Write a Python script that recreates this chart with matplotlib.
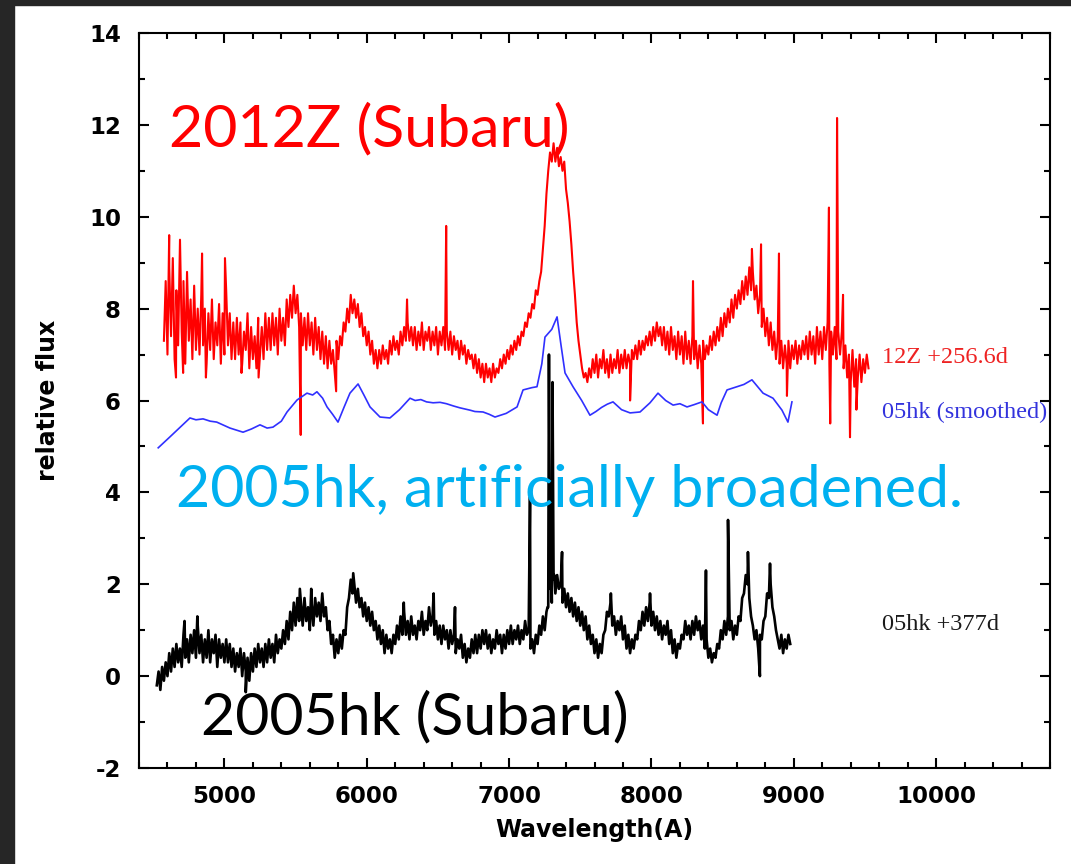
import numpy as np
import matplotlib.pyplot as plt
from matplotlib.ticker import MultipleLocator
from matplotlib.patches import Rectangle

plt.rcParams['axes.unicode_minus'] = False

# 12Z spectrum (+256.6d), sampled every 12.5 A from 4575 to 9525
red_wave = np.arange(4575, 9525.1, 12.5)
red_flux = [
    7.3, 8.6, 7.0, 8.9, 7.4, 9.1, 6.9, 8.4, 7.2, 9.3, 7.5, 8.6, 6.8, 8.8, 7.3, 8.2, 6.9, 8.5, 7.1, 8.0,
    7.0, 8.3, 7.2, 8.0, 6.8, 7.9, 7.1, 8.2, 6.9, 7.7, 7.2, 8.1, 6.8, 7.9, 7.0, 8.4, 7.2, 7.9, 6.9, 7.7,
    6.9, 7.8, 7.0, 7.7, 6.8, 7.5, 7.1, 7.9, 6.7, 7.6, 6.9, 7.4, 6.7, 7.8, 7.0, 7.6, 6.9, 7.9, 7.1, 7.8,
    7.1, 7.9, 7.2, 7.8, 7.0, 8.0, 7.3, 7.8, 7.2, 8.2, 7.6, 8.3, 7.8, 8.5, 7.9, 8.3, 7.6, 7.9, 7.2, 7.8,
    7.1, 7.9, 7.2, 7.7, 7.0, 7.8, 7.1, 7.6, 6.9, 7.5, 6.8, 7.4, 6.7, 7.3, 6.8, 7.1, 6.6, 7.3, 6.9, 7.4,
    7.2, 7.7, 7.5, 8.0, 7.7, 8.3, 7.9, 8.2, 7.8, 8.1, 7.6, 7.9, 7.4, 7.6, 7.2, 7.5, 7.0, 7.3, 6.8, 7.1,
    6.7, 7.1, 6.8, 7.2, 6.9, 7.1, 6.8, 7.3, 7.0, 7.4, 7.1, 7.3, 7.0, 7.5, 7.2, 7.6, 7.3, 7.7, 7.3, 7.6,
    7.2, 7.6, 7.1, 7.5, 7.2, 7.7, 7.1, 7.5, 7.3, 7.6, 7.1, 7.5, 7.2, 7.6, 7.0, 7.5, 7.2, 7.6, 7.1, 7.5,
    7.1, 7.5, 7.0, 7.4, 7.1, 7.3, 6.9, 7.3, 7.0, 7.2, 6.8, 7.1, 6.9, 7.0, 6.7, 7.0, 6.6, 6.9, 6.5, 6.8,
    6.4, 6.8, 6.5, 6.7, 6.4, 6.8, 6.5, 6.7, 6.6, 6.9, 6.7, 7.0, 6.8, 7.1, 6.9, 7.2, 7.0, 7.3, 7.1, 7.4,
    7.2, 7.5, 7.4, 7.7, 7.6, 7.9, 7.8, 8.1, 8.0, 8.4, 8.3, 8.6, 8.8, 9.3, 9.8, 10.5, 11.0, 11.4, 11.2, 11.6,
    11.2, 11.5, 11.1, 11.3, 11.0, 11.2, 10.6, 10.3, 9.9, 9.4, 8.8, 8.3, 7.7, 7.3, 7.0, 6.7, 6.5, 6.6, 6.4, 6.7,
    6.5, 6.9, 6.6, 7.0, 6.5, 6.9, 6.7, 7.1, 6.6, 6.9, 6.5, 7.0, 6.6, 6.9, 6.7, 7.1, 6.6, 7.0, 6.7, 7.1,
    6.7, 7.0, 6.8, 7.1, 6.9, 7.2, 6.9, 7.3, 7.0, 7.3, 7.1, 7.4, 7.2, 7.5, 7.2, 7.6, 7.3, 7.7, 7.4, 7.6,
    7.2, 7.6, 7.1, 7.5, 7.0, 7.6, 7.1, 7.4, 6.9, 7.5, 7.0, 7.4, 6.8, 7.5, 6.9, 7.3, 6.8, 7.4, 6.9, 7.3,
    6.7, 7.2, 6.8, 7.3, 6.9, 7.2, 7.0, 7.4, 7.1, 7.5, 7.2, 7.6, 7.3, 7.8, 7.4, 7.9, 7.6, 8.0, 7.7, 8.2,
    7.8, 8.3, 8.0, 8.4, 8.1, 8.6, 8.2, 8.7, 8.3, 8.9, 8.4, 8.8, 8.2, 8.5, 7.9, 8.3, 7.6, 8.0, 7.4, 7.8,
    7.2, 7.7, 7.1, 7.5, 6.9, 7.4, 6.8, 7.3, 6.7, 7.2, 6.8, 7.3, 6.7, 7.2, 6.9, 7.3, 6.8, 7.2, 6.9, 7.3,
    7.0, 7.4, 6.9, 7.5, 7.0, 7.4, 6.8, 7.6, 7.0, 7.5, 6.9, 7.6, 7.1, 7.7, 6.8, 7.5, 7.0, 7.6, 6.9, 7.5,
    7.0, 7.5, 6.7, 7.2, 6.5, 7.0, 6.4, 7.1, 6.3, 6.9, 6.5, 7.0, 6.4, 6.9, 6.6, 7.0, 6.7,
]
# narrow lines / residuals in the 12Z spectrum
red_spike_wave = [4612, 4660, 4688, 4710, 4843, 4870, 5004, 5120, 5240, 5536,
                  5785, 6283, 6558, 7850, 8292, 8362, 8706, 8770, 8896, 8952,
                  9247, 9256, 9304, 9346, 9395, 9440]
red_spike_flux = [9.6, 6.5, 9.5, 6.6, 9.2, 6.5, 9.1, 6.6, 6.5, 5.25,
                  6.2, 8.2, 9.8, 6.0, 8.6, 5.5, 9.3, 9.4, 9.2, 6.1,
                  10.2, 5.5, 12.15, 8.3, 5.2, 5.8]

# 05hk smoothed to the 12Z line widths
blue_wave = [4535, 4618, 4700, 4758, 4800, 4850, 4900, 4946, 5039, 5131,
             5190, 5250, 5300, 5341, 5400, 5440, 5510, 5580, 5620, 5650,
             5690, 5721, 5760, 5798, 5840, 5882, 5939, 5980, 6023, 6093,
             6163, 6230, 6304, 6340, 6380, 6420, 6466, 6515, 6560, 6610,
             6655, 6725, 6760, 6817, 6860, 6901, 6980, 7056, 7098, 7160,
             7196, 7230, 7252, 7300, 7337, 7365, 7393, 7449, 7510, 7568,
             7610, 7650, 7690, 7730, 7790, 7850, 7920, 7990, 8046, 8100,
             8152, 8200, 8250, 8300, 8355, 8400, 8461, 8490, 8531, 8601,
             8650, 8706, 8784, 8854, 8917, 8959, 8987]
blue_flux = [4.97, 5.21, 5.45, 5.62, 5.58, 5.60, 5.55, 5.53, 5.40, 5.31,
             5.38, 5.47, 5.40, 5.42, 5.55, 5.75, 6.01, 6.16, 6.12, 6.19,
             6.05, 5.86, 5.70, 5.53, 5.85, 6.16, 6.36, 6.12, 5.86, 5.64,
             5.62, 5.80, 6.05, 6.00, 6.02, 5.97, 5.95, 5.96, 5.93, 5.88,
             5.84, 5.79, 5.76, 5.75, 5.70, 5.64, 5.72, 5.86, 6.23, 6.28,
             6.30, 6.80, 7.38, 7.55, 7.82, 7.20, 6.60, 6.30, 6.00, 5.68,
             5.76, 5.85, 5.92, 5.97, 5.80, 5.73, 5.75, 5.95, 6.16, 6.00,
             5.90, 5.93, 5.86, 5.91, 5.97, 5.80, 5.68, 5.95, 6.23, 6.30,
             6.35, 6.45, 6.16, 6.05, 5.79, 5.53, 5.97]

# 05hk spectrum (+377d), sampled every 12.5 A from 4525 to 8975
black_wave = np.arange(4525, 8975.1, 12.5)
black_flux = [
    -0.2, 0.1, -0.3, 0.2, -0.1, 0.3, 0.0, 0.5, 0.1, 0.6, 0.2, 0.7, 0.3, 0.6, 0.2, 0.9, 0.4, 0.8, 0.3, 0.9,
    0.5, 1.0, 0.4, 1.1, 0.5, 0.9, 0.3, 0.8, 0.4, 1.0, 0.3, 0.8, 0.5, 0.9, 0.2, 0.8, 0.4, 0.7, 0.3, 0.8,
    0.3, 0.7, 0.2, 0.6, 0.1, 0.5, 0.2, 0.6, 0.0, 0.5, 0.1, 0.4, -0.1, 0.5, 0.1, 0.6, 0.2, 0.7, 0.3, 0.6,
    0.2, 0.7, 0.3, 0.8, 0.4, 0.7, 0.3, 0.9, 0.5, 0.8, 0.6, 1.0, 0.7, 1.2, 0.8, 1.4, 1.0, 1.6, 1.1, 1.7,
    1.2, 1.6, 1.1, 1.7, 1.2, 1.5, 1.0, 1.6, 1.1, 1.7, 1.3, 1.6, 1.2, 1.8, 1.3, 1.5, 1.0, 1.2, 0.7, 0.9,
    0.4, 0.8, 0.5, 0.9, 0.6, 1.0, 0.9, 1.5, 1.7, 2.1, 1.8, 2.0, 1.6, 1.9, 1.5, 1.7, 1.3, 1.6, 1.2, 1.5,
    1.1, 1.4, 1.0, 1.2, 0.8, 1.1, 0.7, 1.0, 0.5, 0.9, 0.6, 0.8, 0.5, 0.9, 0.7, 1.1, 0.8, 1.3, 0.9, 1.4,
    0.9, 1.2, 0.8, 1.3, 0.9, 1.1, 0.8, 1.2, 1.0, 1.4, 0.9, 1.2, 1.0, 1.5, 1.1, 1.3, 0.9, 1.2, 0.8, 1.1,
    0.7, 1.1, 0.8, 1.0, 0.6, 1.0, 0.7, 0.9, 0.5, 0.8, 0.6, 0.9, 0.4, 0.7, 0.3, 0.6, 0.4, 0.8, 0.5, 0.9,
    0.5, 0.9, 0.6, 1.0, 0.7, 1.0, 0.6, 0.9, 0.5, 0.8, 0.6, 1.0, 0.7, 0.9, 0.5, 0.9, 0.6, 1.0, 0.7, 1.1,
    0.7, 1.0, 0.8, 1.1, 0.7, 1.0, 0.8, 1.2, 0.9, 1.0, 0.6, 0.8, 0.5, 0.9, 0.7, 1.1, 0.9, 1.3, 1.0, 1.4,
    1.5, 1.9, 1.6, 2.1, 1.8, 2.2, 1.9, 2.0, 1.6, 1.9, 1.5, 1.8, 1.4, 1.7, 1.3, 1.6, 1.2, 1.5, 1.1, 1.4,
    1.0, 1.3, 0.8, 1.1, 0.7, 0.9, 0.5, 0.8, 0.4, 0.7, 0.5, 0.9, 1.0, 1.4, 1.3, 1.6, 1.1, 1.3, 0.9, 1.2,
    1.0, 1.3, 0.8, 1.1, 0.6, 0.9, 0.5, 0.8, 0.6, 0.9, 0.8, 1.2, 1.0, 1.4, 1.1, 1.5, 1.2, 1.6, 1.1, 1.4,
    1.0, 1.3, 0.9, 1.2, 0.8, 1.1, 0.9, 1.2, 0.7, 1.0, 0.5, 0.8, 0.4, 0.7, 0.6, 0.9, 0.8, 1.2, 0.9, 1.1,
    0.8, 1.2, 0.9, 1.3, 1.0, 1.2, 0.8, 1.1, 0.6, 0.8, 0.4, 0.6, 0.3, 0.5, 0.4, 0.7, 0.6, 1.0, 0.8, 1.2,
    0.9, 1.3, 1.0, 1.2, 0.8, 1.1, 0.9, 1.3, 1.2, 1.7, 1.8, 2.2, 2.0, 1.7, 1.3, 1.1, 0.8, 1.0, 0.6, 0.9,
    0.8, 1.2, 1.3, 1.8, 1.7, 2.0, 1.5, 1.3, 1.0, 0.8, 0.6, 0.9, 0.5, 0.8, 0.6, 0.9, 0.7,
]
black_spike_wave = [4720, 4810, 5150, 5530, 5610, 5905, 6260, 6470, 6620, 7147,
                    7270, 7280, 7292, 7305, 7318, 7372, 7715, 7990, 8383, 8538,
                    8678, 8762, 8833]
black_spike_flux = [1.2, 1.3, -0.35, 1.9, 1.9, 2.24, 1.6, 1.8, 1.5, 3.9,
                    1.5, 7.0, 2.8, 6.4, 2.2, 2.7, 1.8, 1.8, 2.3, 3.4,
                    2.7, 0.0, 2.45]


def with_spikes(wave, flux, spike_wave, spike_flux):
    w = np.concatenate([wave, spike_wave])
    f = np.concatenate([flux, spike_flux])
    order = np.argsort(w, kind='stable')
    return w[order], f[order]


fig = plt.figure(figsize=(10.71, 8.64), dpi=100)
fig.patch.set_facecolor('white')
# dark frame strips along the top and left edges
fig.add_artist(Rectangle((0, 1 - 5 / 864), 1, 5 / 864, transform=fig.transFigure,
                         color='#262626', zorder=10))
fig.add_artist(Rectangle((0, 0), 14 / 1071, 1, transform=fig.transFigure,
                         color='#262626', zorder=10))

ax = fig.add_axes([139 / 1071, 96 / 864, 911 / 1071, 735 / 864])

rw, rf = with_spikes(red_wave, red_flux, red_spike_wave, red_spike_flux)
bw, bf = with_spikes(black_wave, black_flux, black_spike_wave, black_spike_flux)
ax.plot(rw, rf, color='#ff0000', lw=1.5)
ax.plot(blue_wave, blue_flux, color='#3030ff', lw=1.2)
ax.plot(bw, bf, color='black', lw=1.9)

ax.set_xlim(4400, 10800)
ax.set_ylim(-2, 14)
ax.xaxis.set_major_locator(MultipleLocator(1000))
ax.xaxis.set_minor_locator(MultipleLocator(200))
ax.yaxis.set_major_locator(MultipleLocator(2))
ax.yaxis.set_minor_locator(MultipleLocator(1))
ax.set_xticks(range(5000, 10001, 1000))
ax.tick_params(which='both', direction='in', top=True, right=True, width=1.5)
ax.tick_params(which='major', length=7)
ax.tick_params(which='minor', length=4)
ax.tick_params(axis='x', pad=12)
ax.tick_params(axis='y', pad=13)
for lab in ax.get_xticklabels() + ax.get_yticklabels():
    lab.set_fontfamily('DejaVu Sans')
    lab.set_fontweight('bold')
    lab.set_fontsize(16.5)
for sp in ax.spines.values():
    sp.set_linewidth(1.5)

ax.set_xlabel('Wavelength(A)', fontfamily='DejaVu Sans', fontweight='bold', fontsize=17)
ax.set_ylabel('relative flux', fontfamily='DejaVu Sans', fontweight='bold', fontsize=17)
ax.xaxis.set_label_coords(0.5, -0.068)
ax.yaxis.set_label_coords(-0.087, 0.5)

# spectrum tags
ax.text(9620, 6.82, '12Z +256.6d', color='#ee2222', fontfamily='Liberation Serif', fontsize=17.5)
ax.text(9620, 5.62, '05hk (smoothed)', color='#3333dd', fontfamily='Liberation Serif', fontsize=17.5)
ax.text(9620, 1.0, '05hk +377d', color='#1a1a1a', fontfamily='Liberation Serif', fontsize=17.5)

# slide annotations
ax.text(6016, 11.52, '2012Z (Subaru)', color='#ff0000', fontfamily='Lato', fontsize=42.5, ha='center')
ax.text(7424, 3.68, '2005hk, artificially broadened.', color='#00b0f0', fontfamily='Lato',
        fontsize=42.5, ha='center')
ax.text(6339, -1.28, '2005hk (Subaru)', color='black', fontfamily='Lato', fontsize=42.5, ha='center')

fig.savefig('out.png', dpi=100)
